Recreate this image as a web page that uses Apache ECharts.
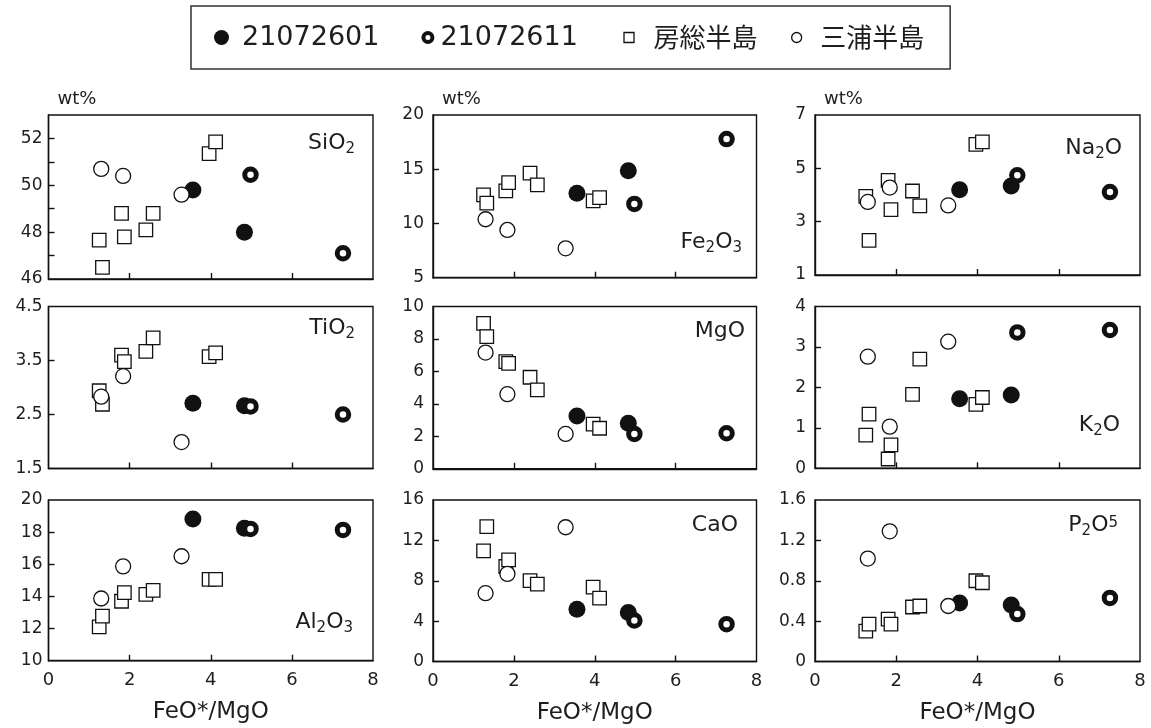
<!DOCTYPE html>
<html><head><meta charset="utf-8">
<script src="https://cdn.jsdelivr.net/npm/echarts@6/dist/echarts.min.js"></script>
<style>html,body{margin:0;padding:0;background:#fff}#c{width:1151px;height:728px}</style>
</head><body><div id="c"></div>
<script>
// ---- data ----
const seriesNames = ['21072601', '21072611', '房総半島', '三浦半島'];
const oxides = ['SiO2', 'Fe2O3', 'Na2O', 'TiO2', 'MgO', 'K2O', 'Al2O3', 'CaO', 'P2O5'];
const panelTitles = ['SiO{s|2}', 'Fe{s|2}O{s|3}', 'Na{s|2}O', 'TiO{s|2}', 'MgO', 'K{s|2}O', 'Al{s|2}O{s|3}', 'CaO', 'P{s|2}O{p|5}'];

// FeO*/MgO of each sample
const x21072601 = [3.56, 4.83];
const x21072611 = [4.98, 7.26];
const xBoso = [1.25, 1.33, 1.8, 1.87, 2.4, 2.58, 3.96, 4.12];
const xMiura = [1.3, 1.84, 3.28];

// wt% per oxide (same order as oxides)
const y21072601 = [[49.8, 48.0], [12.79, 14.85], [4.2, 4.34], [2.71, 2.66], [3.26, 2.81], [1.72, 1.81], [18.82, 18.24], [5.18, 4.85], [0.58, 0.56]];
const y21072611 = [[50.45, 47.1], [11.8, 17.78], [4.74, 4.11], [2.65, 2.5], [2.15, 2.19], [3.36, 3.42], [18.2, 18.14], [4.06, 3.7], [0.47, 0.63]];
const yBoso = [
  [47.66, 46.5, 48.8, 47.8, 48.1, 48.8, 51.35, 51.85],
  [12.64, 11.87, 13.0, 13.77, 14.64, 13.56, 12.08, 12.39],
  [3.95, 2.3, 4.55, 3.45, 4.15, 3.59, 5.9, 5.99],
  [2.94, 2.69, 3.6, 3.48, 3.67, 3.92, 3.57, 3.64],
  [8.96, 8.14, 6.6, 6.5, 5.64, 4.86, 2.75, 2.5],
  [0.82, 1.34, 0.23, 0.58, 1.83, 2.7, 1.58, 1.75],
  [12.1, 12.77, 13.7, 14.24, 14.13, 14.38, 15.06, 15.06],
  [10.96, 13.37, 9.41, 10.07, 8.02, 7.66, 7.36, 6.27],
  [0.30, 0.37, 0.42, 0.37, 0.54, 0.55, 0.80, 0.78]
];
const yMiura = [[50.7, 50.4, 49.6], [10.39, 9.4, 7.71], [3.74, 4.28, 3.61], [2.83, 3.21, 1.99], [7.16, 4.6, 2.15], [2.76, 1.03, 3.13], [13.87, 15.87, 16.5], [6.77, 8.68, 13.3], [1.02, 1.29, 0.55]];

// axis ranges and tick labels
const yMin = [46, 5, 1, 1.5, 0, 0, 10, 0, 0];
const yMax = [53, 20, 7, 4.5, 10, 4, 20, 16, 1.6];
const yLabelValues = [[46, 48, 50, 52], [5, 10, 15, 20], [1, 3, 5, 7], [1.5, 2.5, 3.5, 4.5], [0, 2, 4, 6, 8, 10], [0, 1, 2, 3, 4], [10, 12, 14, 16, 18, 20], [0, 4, 8, 12, 16], [0, 0.4, 0.8, 1.2, 1.6]];
const yTickValues = [[47, 48, 49, 50, 51, 52], [10, 15], [3, 5], [2.5, 3.5], [2, 4, 6, 8], [1, 2, 3], [12, 14, 16, 18], [4, 8, 12], [0.4, 0.8, 1.2]];
const xMin = 0, xMax = 8;
const xLabelValues = [0, 2, 4, 6, 8];
const xTickValues = [2, 4, 6];
const xName = 'FeO*/MgO';
const yUnit = 'wt%';

// ---- layout ----
const colLeft = [48.5, 433, 815];
const colRight = [373, 756.5, 1140];
const rowTop = [115, 306.5, 500];
const rowBottom = [[279, 277.7, 275], [468.5, 468.8, 468.3], [660.7, 661.5, 661.5]];
const titlePos = [[796, 130], [409, 229], [29, 135], [796, 315], [406, 318], [31, 412], [798, 609], [413, 512], [33, 512]];
const ink = '#111';
const txt = '#1e1e1e';
const font = 'DejaVu Sans';
const W = 1151, H = 728;

const grids = [], xAxes = [], yAxes = [], series = [], titles = [];
for (let i = 0; i < 9; i++) {
  const r = Math.floor(i / 3), c = i % 3;
  grids.push({
    left: colLeft[c], top: rowTop[r],
    width: colRight[c] - colLeft[c], height: rowBottom[r][c] - rowTop[r],
    show: true, borderColor: ink, borderWidth: 1.4, backgroundColor: 'transparent'
  });
  const bottomRow = r === 2;
  xAxes.push({
    gridIndex: i, type: 'value', min: xMin, max: xMax,
    axisLine: { show: true, lineStyle: { color: ink, width: 1.4 } },
    axisTick: { show: true, inside: true, length: 6, lineStyle: { color: ink, width: 1.4 }, customValues: xTickValues },
    axisLabel: { show: bottomRow, customValues: xLabelValues, fontSize: 18, fontFamily: font, color: txt, margin: 11 },
    splitLine: { show: false },
    name: bottomRow ? xName : '', nameLocation: 'middle', nameGap: 40,
    nameTextStyle: { fontSize: 23, fontFamily: font, color: txt }
  });
  yAxes.push({
    gridIndex: i, type: 'value', min: yMin[i], max: yMax[i],
    axisLine: { show: true, lineStyle: { color: ink, width: 1.4 } },
    axisTick: { show: true, inside: true, length: 6, lineStyle: { color: ink, width: 1.4 }, customValues: yTickValues[i] },
    axisLabel: { customValues: yLabelValues[i], fontSize: 17, fontFamily: font, color: txt, margin: c === 0 ? 6 : 9 },
    splitLine: { show: false },
    name: r === 0 ? yUnit : '', nameLocation: 'end', nameGap: 7,
    nameTextStyle: { fontSize: 18, fontFamily: font, color: txt, align: 'left', padding: [0, 0, 0, 9] }
  });
  const mk = (name, xs, ys, extra) => Object.assign({
    name, type: 'scatter', xAxisIndex: i, yAxisIndex: i,
    data: xs.map((x, k) => [x, ys[k]]),
    emphasis: { disabled: true }, animation: false
  }, extra);
  series.push(mk(seriesNames[0], x21072601, y21072601[i], { symbol: 'circle', symbolSize: 17, z: 2, itemStyle: { color: ink, borderWidth: 0, opacity: 1 } }));
  series.push(mk(seriesNames[1], x21072611, y21072611[i], { symbol: 'circle', symbolSize: 11.5, z: 3, itemStyle: { color: '#fff', borderColor: ink, borderWidth: 5, opacity: 1 } }));
  series.push(mk(seriesNames[2], xBoso, yBoso[i], { symbol: 'rect', symbolSize: 13.5, z: 4, itemStyle: { color: '#fff', borderColor: ink, borderWidth: 1.3, opacity: 1 } }));
  series.push(mk(seriesNames[3], xMiura, yMiura[i], { symbol: 'circle', symbolSize: 15, z: 5, itemStyle: { color: '#fff', borderColor: ink, borderWidth: 1.3, opacity: 1 } }));
  titles.push({
    text: panelTitles[i], right: titlePos[i][0], top: titlePos[i][1], padding: 0,
    textStyle: {
      fontSize: 22, fontWeight: 'normal', fontFamily: font, color: txt, lineHeight: 27,
      rich: {
        s: { fontSize: 15, lineHeight: 13, verticalAlign: 'bottom', fontFamily: font, color: txt },
        p: { fontSize: 15, lineHeight: 15, verticalAlign: 'top', fontFamily: font, color: txt, padding: [4, 0, 0, 0] }
      }
    }
  });
}

const pad = 'path://M0,0L0.01,0.01M15,15L15.01,15.01';
const option = {
  backgroundColor: '#fff',
  animation: false,
  title: titles,
  legend: {
    left: 191, top: 6, orient: 'horizontal',
    padding: [16.5, 26, 16.5, 23],
    borderColor: '#333', borderWidth: 1.5, backgroundColor: '#fff',
    itemWidth: 15, itemHeight: 15, itemGap: 31, selectedMode: false,
    itemStyle: { opacity: 1 },
    textStyle: { fontSize: 27, fontFamily: font, color: txt, lineHeight: 30,
      rich: {
        r1: { fontSize: 27, fontFamily: font, color: txt, padding: [0, 10, 0, 8] },
        r2: { fontSize: 27, fontFamily: font, color: txt, padding: [0, 12, 0, 0] },
        r3: { fontSize: 26, fontFamily: 'Noto Sans CJK JP', color: txt, padding: [0, 0, 0, 12] },
        r4: { fontSize: 26, fontFamily: 'Noto Sans CJK JP', color: txt, padding: [0, 0, 0, 11] }
      }
    },
    formatter: name => '{r' + (seriesNames.indexOf(name) + 1) + '|' + name + '}',
    data: [
      { name: seriesNames[0], icon: 'circle', itemStyle: { color: ink, borderWidth: 0, opacity: 1 } },
      { name: seriesNames[1], icon: pad + 'M1,7.5a6.5,6.5 0 1,0 13,0a6.5,6.5 0 1,0 -13,0ZM5,7.5a2.5,2.5 0 1,1 5,0a2.5,2.5 0 1,1 -5,0Z', itemStyle: { color: ink, borderWidth: 0, opacity: 1 } },
      { name: seriesNames[2], icon: pad + 'M2.5,2.5h10v10h-10Z', itemStyle: { color: '#fff', borderColor: ink, borderWidth: 1.3, opacity: 1 } },
      { name: seriesNames[3], icon: pad + 'M2.5,7.5a5,5 0 1,0 10,0a5,5 0 1,0 -10,0Z', itemStyle: { color: '#fff', borderColor: ink, borderWidth: 1.3, opacity: 1 } }
    ]
  },
  grid: grids, xAxis: xAxes, yAxis: yAxes, series
};
const chart = echarts.init(document.getElementById('c'), null, { renderer: 'canvas', width: W, height: H });
chart.setOption(option);
</script></body></html>
